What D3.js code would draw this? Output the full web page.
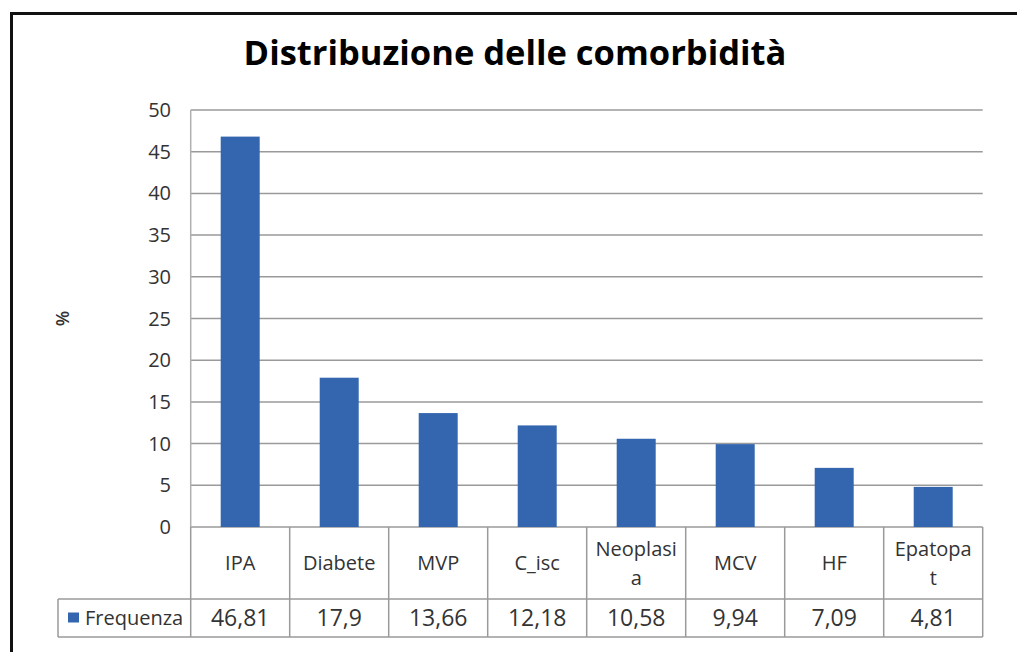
<!DOCTYPE html>
<html>
<head>
<meta charset="utf-8">
<title>Distribuzione delle comorbidità</title>
<style>
body { margin: 0; background-color: #ffffff; }
text { font-family: "Open Sans", sans-serif; }
</style>
</head>
<body>
<script src="https://d3js.org/d3.v7.min.js"></script>
<script>

// data
var categories = ["IPA", "Diabete", "MVP", "C_isc", "Neoplasi\na", "MCV", "HF", "Epatopa\nt"];
var frequenza = [46.81, 17.9, 13.66, 12.18, 10.58, 9.94, 7.09, 4.81];
var yTicks = [0, 5, 10, 15, 20, 25, 30, 35, 40, 45, 50];
var seriesName = "Frequenza";

var w = 1017, h = 652;
var plotL = 190.7, plotR = 982.7;
var plotT = 110, plotB = 527;
var row1 = 599, row2 = 637;
var legendLeft = 58;
var barColor = "#3466b0";
var textColor = "#333333";
var lineColor = "#9a9a9a";

var svg = d3.select("body")
            .append("svg")
            .attr("width", w)
            .attr("height", h);

// outer frame: only top and left edges are in the picture
svg.append("path")
   .attr("d", "M11.5," + h + "V13.5H" + w)
   .attr("fill", "none")
   .attr("stroke", "#111")
   .attr("stroke-width", 3);

// title
svg.append("text")
   .text("Distribuzione delle comorbidità")
   .attr("x", 515).attr("y", 65)
   .attr("text-anchor", "middle")
   .attr("font-size", "34.5px")
   .attr("font-weight", "bold")
   .attr("fill", "#000");

var x = d3.scaleBand()
          .domain(d3.range(categories.length))
          .range([plotL, plotR])
          .paddingInner(0)
          .paddingOuter(0);

var y = d3.scaleLinear()
          .domain([0, 50])
          .range([plotB, plotT]);

// gridlines
svg.append("g")
   .selectAll("line")
   .data(yTicks)
   .enter()
   .append("line")
   .attr("x1", plotL).attr("x2", plotR)
   .attr("y1", function(d) { return y(d); })
   .attr("y2", function(d) { return y(d); })
   .attr("stroke", lineColor)
   .attr("stroke-width", 1.5);

// y axis line
svg.append("line")
   .attr("x1", plotL).attr("x2", plotL)
   .attr("y1", plotT).attr("y2", plotB)
   .attr("stroke", "#b0b0b0")
   .attr("stroke-width", 1.5);

// y tick labels
svg.append("g")
   .selectAll("text")
   .data(yTicks)
   .enter()
   .append("text")
   .text(function(d) { return d; })
   .attr("x", 171)
   .attr("y", function(d) { return y(d); })
   .attr("dy", "0.35em")
   .attr("text-anchor", "end")
   .attr("font-size", "20px")
   .attr("fill", textColor);

// y axis title
svg.append("text")
   .text("%")
   .attr("transform", "translate(63," + y(25) + ") rotate(-90)")
   .attr("text-anchor", "middle")
   .attr("dy", "0.35em")
   .attr("font-size", "18px")
   .attr("font-weight", "600")
   .attr("fill", textColor);

// bars
var bw = 39;
svg.append("g")
   .selectAll("rect")
   .data(frequenza)
   .enter()
   .append("rect")
   .attr("x", function(d, i) { return x(i) + x.bandwidth() / 2 - bw / 2; })
   .attr("y", function(d) { return y(d); })
   .attr("width", bw)
   .attr("height", function(d) { return y(0) - y(d); })
   .attr("fill", barColor);

// data table
var tbl = svg.append("g");
tbl.append("line")
   .attr("x1", legendLeft).attr("x2", plotR)
   .attr("y1", row1).attr("y2", row1)
   .attr("stroke", lineColor).attr("stroke-width", 1.5);
tbl.append("line")
   .attr("x1", legendLeft).attr("x2", plotR)
   .attr("y1", row2).attr("y2", row2)
   .attr("stroke", lineColor).attr("stroke-width", 1.5);
tbl.append("line")
   .attr("x1", legendLeft).attr("x2", legendLeft)
   .attr("y1", row1).attr("y2", row2)
   .attr("stroke", lineColor).attr("stroke-width", 1.5);
tbl.selectAll(".vline")
   .data(d3.range(categories.length + 1))
   .enter()
   .append("line")
   .attr("class", "vline")
   .attr("x1", function(i) { return plotL + i * x.bandwidth(); })
   .attr("x2", function(i) { return plotL + i * x.bandwidth(); })
   .attr("y1", plotB).attr("y2", row2)
   .attr("stroke", lineColor).attr("stroke-width", 1.5);

// category labels
var cat = tbl.selectAll(".cat")
   .data(categories)
   .enter()
   .append("text")
   .attr("class", "cat")
   .attr("text-anchor", "middle")
   .attr("font-size", "20px")
   .attr("fill", textColor);
cat.each(function(d, i) {
  var lines = d.split("\n");
  var cy = (plotB + row1) / 2;
  var lh = 29;
  var t = d3.select(this);
  lines.forEach(function(s, k) {
    t.append("tspan")
     .text(s)
     .attr("x", x(i) + x.bandwidth() / 2)
     .attr("y", cy + (k - (lines.length - 1) / 2) * lh)
     .attr("dy", "0.35em");
  });
});

// values
tbl.selectAll(".val")
   .data(frequenza)
   .enter()
   .append("text")
   .attr("class", "val")
   .text(function(d) { return String(d).replace(".", ","); })
   .attr("x", function(d, i) { return x(i) + x.bandwidth() / 2; })
   .attr("y", (row1 + row2) / 2)
   .attr("dy", "0.36em")
   .attr("text-anchor", "middle")
   .attr("font-size", "23px")
   .attr("fill", textColor);

// legend key
tbl.append("rect")
   .attr("x", 68).attr("y", 612.5)
   .attr("width", 11).attr("height", 10)
   .attr("fill", barColor);
tbl.append("text")
   .text(seriesName)
   .attr("x", 85)
   .attr("y", (row1 + row2) / 2)
   .attr("dy", "0.36em")
   .attr("font-size", "20px")
   .attr("fill", textColor);

</script>
</body>
</html>
